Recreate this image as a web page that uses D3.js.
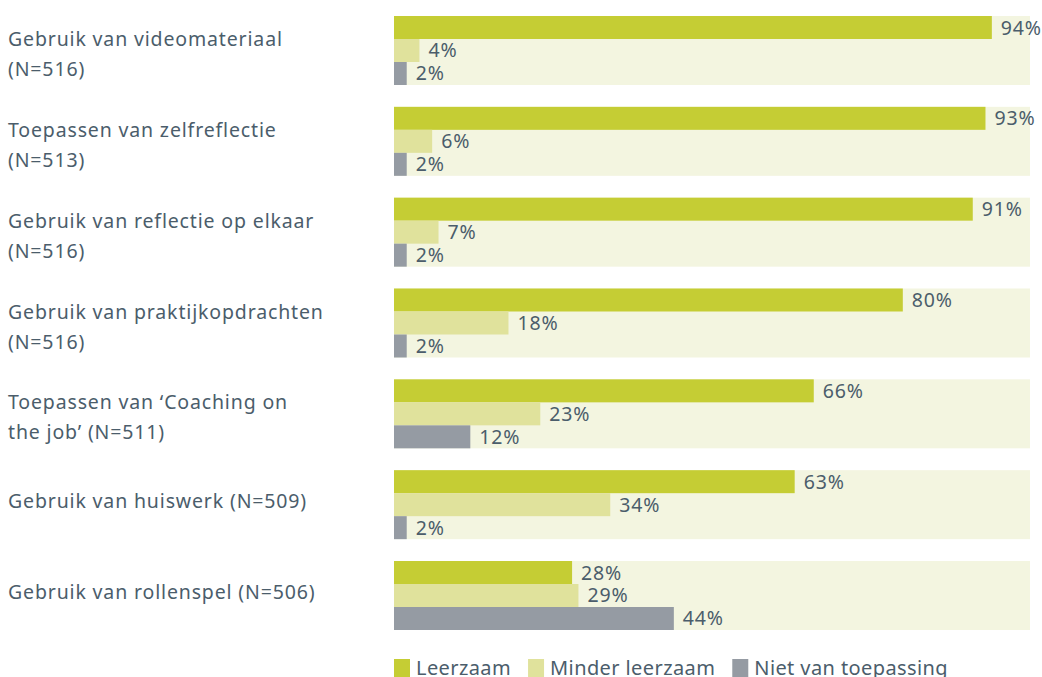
<!DOCTYPE html>
<html>
<head>
<meta charset="utf-8">
<script src="https://cdn.jsdelivr.net/npm/d3@7"></script>
<style>
  body { margin: 0; background: #fff; }
  text { font-family: "Noto Sans", sans-serif; fill: #4b5d6b; font-size: 19.5px; letter-spacing: 0.85px; }
</style>
</head>
<body>
<div id="chart"></div>
<script>
const categories = [
  ["Gebruik van videomateriaal", "(N=516)"],
  ["Toepassen van zelfreflectie", "(N=513)"],
  ["Gebruik van reflectie op elkaar", "(N=516)"],
  ["Gebruik van praktijkopdrachten", "(N=516)"],
  ["Toepassen van \u2018Coaching on", "the job\u2019 (N=511)"],
  ["Gebruik van huiswerk (N=509)"],
  ["Gebruik van rollenspel (N=506)"]
];
const seriesNames = ["Leerzaam", "Minder leerzaam", "Niet van toepassing"];
const leerzaam = [94, 93, 91, 80, 66, 63, 28];
const minderLeerzaam = [4, 6, 7, 18, 23, 34, 29];
const nietVanToepassing = [2, 2, 2, 2, 12, 2, 44];

const seriesValues = [leerzaam, minderLeerzaam, nietVanToepassing];
const colors = ["#c5cd34", "#e0e29c", "#959ba3"];

const width = 1042, height = 677;
const svg = d3.select('#chart').append('svg')
  .attr('width', width)
  .attr('height', height);

const x = d3.scaleLinear().domain([0, 100]).range([394, 1030]);
const y = d3.scaleBand()
  .domain(d3.range(categories.length))
  .range([16, 630])
  .paddingInner(0.2404)
  .paddingOuter(0);
const ySub = d3.scaleBand()
  .domain(d3.range(seriesNames.length))
  .range([0, y.bandwidth()]);

const groups = svg.selectAll('.group')
  .data(categories)
  .enter().append('g')
  .attr('class', 'group')
  .attr('transform', (d, i) => `translate(0,${y(i)})`);

// achtergrondbalk (100%)
groups.append('rect')
  .attr('x', x(0))
  .attr('y', 0)
  .attr('width', x(100) - x(0))
  .attr('height', y.bandwidth())
  .attr('fill', '#f3f5e0');

// categorie labels
groups.each(function(lines) {
  const g = d3.select(this);
  lines.forEach((line, j) => {
    g.append('text')
      .attr('x', 8)
      .attr('y', lines.length > 1 ? 30 + j * 30 : 38)
      .text(line);
  });
});

// balken en waardes
seriesValues.forEach((values, s) => {
  groups.append('rect')
    .attr('x', x(0))
    .attr('y', ySub(s))
    .attr('width', (d, i) => x(values[i]) - x(0))
    .attr('height', ySub.bandwidth())
    .attr('fill', colors[s]);

  groups.append('text')
    .attr('x', (d, i) => x(values[i]) + 9)
    .attr('y', ySub(s) + ySub.bandwidth() / 2 + 7)
    .text((d, i) => values[i] + '%');
});

// legenda
const legend = svg.append('g').attr('transform', 'translate(394,0)');
let lx = 0;
seriesNames.forEach((name, s) => {
  legend.append('rect')
    .attr('x', lx)
    .attr('y', 659)
    .attr('width', 16)
    .attr('height', 18)
    .attr('fill', colors[s]);
  const t = legend.append('text')
    .attr('x', lx + 22)
    .attr('y', 675)
    .style('font-size', '20px')
    .style('letter-spacing', '0.4px')
    .text(name);
  lx += 22 + t.node().getComputedTextLength() + 17;
});
</script>
</body>
</html>
